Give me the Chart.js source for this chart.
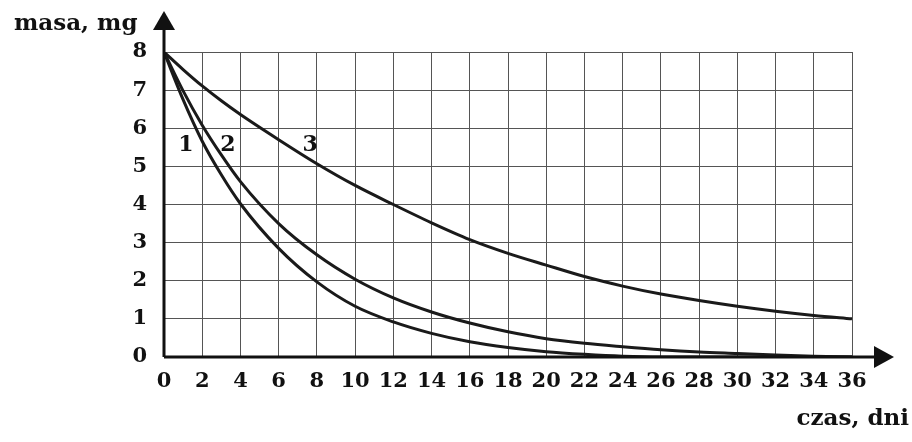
<!DOCTYPE html>
<html>
<head>
<meta charset="utf-8">
<script src="https://cdn.jsdelivr.net/npm/chart.js@4"></script>
<style>
  html, body { margin: 0; padding: 0; background: #fff; }
  #wrap { width: 912px; height: 442px; }
</style>
</head>
<body>
<div id="wrap"><canvas id="wykres" width="912" height="442"></canvas></div>
<script>
// dni (os X)
const dni = [0, 1, 2, 3, 4, 6, 8, 10, 12, 14, 16, 18, 20, 22, 24, 26, 28, 30, 32, 34, 36];
// masa, mg
const krzywa1 = [8, 6.75, 5.66, 4.78, 4.02, 2.85, 1.97, 1.33, 0.92, 0.62, 0.4, 0.25, 0.14, 0.07, 0.02, 0, 0, 0, 0, 0, 0];
const krzywa2 = [8, 6.98, 6.08, 5.3, 4.6, 3.5, 2.68, 2.04, 1.55, 1.18, 0.89, 0.66, 0.48, 0.36, 0.27, 0.19, 0.13, 0.09, 0.05, 0.02, 0];
const krzywa3 = [8, 7.54, 7.11, 6.72, 6.36, 5.7, 5.07, 4.5, 4.0, 3.52, 3.08, 2.72, 2.41, 2.11, 1.86, 1.65, 1.48, 1.33, 1.2, 1.09, 1.0];
const etykiety = [
  { tekst: "1", x: 1.15, y: 5.55 },
  { tekst: "2", x: 3.35, y: 5.55 },
  { tekst: "3", x: 7.65, y: 5.55 }
];

const czcionka = "'DejaVu Serif', 'Liberation Serif', serif";

function punkty(ys) {
  return dni.map((d, i) => ({ x: d, y: ys[i] }));
}

function seria(ys) {
  return {
    data: punkty(ys),
    borderColor: "#1a1a1a",
    borderWidth: 3,
    pointRadius: 0,
    fill: false,
    cubicInterpolationMode: "monotone"
  };
}

// strzalki osi, opisy osi i numery krzywych
const dodatki = {
  id: "dodatki",
  afterDraw(chart) {
    const ctx = chart.ctx;
    const a = chart.chartArea;
    const sx = chart.scales.x;
    const sy = chart.scales.y;
    ctx.save();
    ctx.strokeStyle = "#111";
    ctx.fillStyle = "#111";
    ctx.lineWidth = 3;

    // os Y do gory
    ctx.beginPath();
    ctx.moveTo(a.left, a.bottom);
    ctx.lineTo(a.left, 28);
    ctx.stroke();
    ctx.beginPath();
    ctx.moveTo(a.left, 11);
    ctx.lineTo(a.left - 11, 30);
    ctx.lineTo(a.left + 11, 30);
    ctx.closePath();
    ctx.fill();

    // os X w prawo
    ctx.beginPath();
    ctx.moveTo(a.left, a.bottom);
    ctx.lineTo(876, a.bottom);
    ctx.stroke();
    ctx.beginPath();
    ctx.moveTo(894, a.bottom);
    ctx.lineTo(874, a.bottom - 11);
    ctx.lineTo(874, a.bottom + 11);
    ctx.closePath();
    ctx.fill();

    ctx.font = "bold 23px " + czcionka;
    ctx.textBaseline = "alphabetic";
    ctx.textAlign = "left";
    ctx.fillText("masa, mg", 14, 30);
    ctx.textAlign = "right";
    ctx.fillText("czas, dni", 909, 425);

    ctx.font = "bold 22px " + czcionka;
    ctx.textBaseline = "middle";
    ctx.textAlign = "center";
    etykiety.forEach(e => {
      ctx.fillText(e.tekst, sx.getPixelForValue(e.x), sy.getPixelForValue(e.y));
    });
    ctx.restore();
  }
};

new Chart(document.getElementById("wykres"), {
  type: "line",
  data: {
    datasets: [seria(krzywa1), seria(krzywa2), seria(krzywa3)]
  },
  options: {
    responsive: false,
    animation: false,
    layout: { padding: { left: 0, top: 52, right: 60, bottom: 0 } },
    plugins: {
      legend: { display: false },
      tooltip: { enabled: false }
    },
    scales: {
      x: {
        type: "linear",
        min: 0,
        max: 36,
        ticks: {
          stepSize: 2,
          color: "#111",
          padding: 12,
          font: { family: czcionka, size: 21, weight: "bold" }
        },
        grid: { color: "#555", lineWidth: 1, drawTicks: false },
        border: { display: false },
        afterFit(s) { s.height = 85; }
      },
      y: {
        min: 0,
        max: 8,
        ticks: {
          stepSize: 1,
          color: "#111",
          padding: 17,
          font: { family: czcionka, size: 21, weight: "bold" }
        },
        grid: { color: "#555", lineWidth: 1, drawTicks: false },
        border: { display: false },
        afterFit(s) { s.width = 164; }
      }
    }
  },
  plugins: [dodatki]
});
</script>
</body>
</html>
